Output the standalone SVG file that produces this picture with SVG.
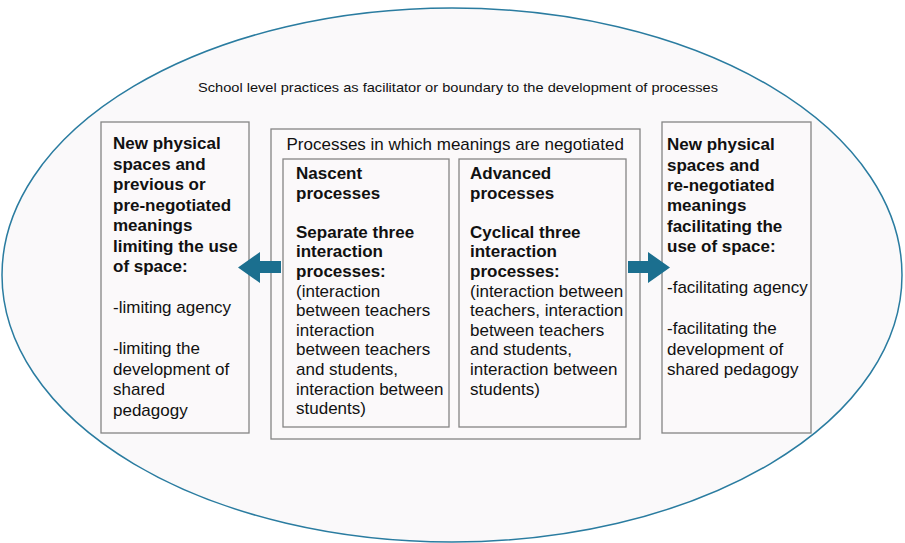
<svg xmlns="http://www.w3.org/2000/svg" width="905" height="543" viewBox="0 0 905 543">
<style>
.box{fill:#fbf9fa;stroke:#858585;stroke-width:1.3}
.t{font-family:"Liberation Sans",Arial,sans-serif;font-size:17px;fill:#111}
.b{font-weight:bold}
.arrow{fill:#1b6f8f}
</style>
<rect width="905" height="543" fill="#ffffff"/>
<g id="school">
<ellipse cx="452" cy="275" rx="450" ry="267" fill="#faf9fa" stroke="#2a7ca0" stroke-width="1.5"/>
<text x="458" y="91.5" text-anchor="middle" style="font-family:'Liberation Sans',Arial,sans-serif;font-size:13px;fill:#111" textLength="520" lengthAdjust="spacingAndGlyphs">School level practices as facilitator or boundary to the development of processes</text>
</g>
<g id="left-box">
<rect class="box" x="101" y="122" width="148" height="311"/>
<text class="t b">
<tspan x="113" y="149">New physical</tspan>
<tspan x="113" y="169.5">spaces and</tspan>
<tspan x="113" y="190">previous or</tspan>
<tspan x="113" y="210.5">pre-negotiated</tspan>
<tspan x="113" y="231">meanings</tspan>
<tspan x="113" y="251.5">limiting the use</tspan>
<tspan x="113" y="272">of space:</tspan>
</text>
<text class="t">
<tspan x="113" y="313">-limiting agency</tspan>
<tspan x="113" y="354">-limiting the</tspan>
<tspan x="113" y="374.5">development of</tspan>
<tspan x="113" y="395">shared</tspan>
<tspan x="113" y="415.5">pedagogy</tspan>
</text>
</g>
<g id="processes">
<rect class="box" x="271" y="129" width="369" height="310"/>
<text class="t" x="286.5" y="149.5">Processes in which meanings are negotiated</text>
</g>
<g id="nascent">
<rect class="box" x="283" y="159" width="166" height="268"/>
<text class="t b">
<tspan x="296" y="179">Nascent</tspan>
<tspan x="296" y="198.6">processes</tspan>
<tspan x="296" y="237.8">Separate three</tspan>
<tspan x="296" y="257.4">interaction</tspan>
<tspan x="296" y="277">processes:</tspan>
</text>
<text class="t">
<tspan x="296" y="296.6">(interaction</tspan>
<tspan x="296" y="316.2">between teachers</tspan>
<tspan x="296" y="335.8">interaction</tspan>
<tspan x="296" y="355.4">between teachers</tspan>
<tspan x="296" y="375">and students,</tspan>
<tspan x="296" y="394.6">interaction between</tspan>
<tspan x="296" y="414.2">students)</tspan>
</text>
</g>
<g id="advanced">
<rect class="box" x="459" y="159" width="167" height="268"/>
<text class="t b">
<tspan x="470" y="179">Advanced</tspan>
<tspan x="470" y="198.6">processes</tspan>
<tspan x="470" y="237.8">Cyclical three</tspan>
<tspan x="470" y="257.4">interaction</tspan>
<tspan x="470" y="277">processes:</tspan>
</text>
<text class="t">
<tspan x="470" y="296.6">(interaction between</tspan>
<tspan x="470" y="316.2">teachers, interaction</tspan>
<tspan x="470" y="335.8">between teachers</tspan>
<tspan x="470" y="355.4">and students,</tspan>
<tspan x="470" y="375">interaction between</tspan>
<tspan x="470" y="394.6">students)</tspan>
</text>
</g>
<g id="right-box">
<rect class="box" x="662" y="122" width="149" height="311"/>
<text class="t b">
<tspan x="667" y="150">New physical</tspan>
<tspan x="667" y="170.5">spaces and</tspan>
<tspan x="667" y="191">re-negotiated</tspan>
<tspan x="667" y="211.4">meanings</tspan>
<tspan x="667" y="231.8">facilitating the</tspan>
<tspan x="667" y="252.3">use of space:</tspan>
</text>
<text class="t">
<tspan x="667" y="293.2">-facilitating agency</tspan>
<tspan x="667" y="334">-facilitating the</tspan>
<tspan x="667" y="354.5">development of</tspan>
<tspan x="667" y="375">shared pedagogy</tspan>
</text>
</g>
<g id="connectors">
<polygon class="arrow" points="281,261 260,261 260,252 238,267.5 260,283 260,273 281,273"/>
<polygon class="arrow" points="628,261 648,261 648,252 670,267.5 648,283 648,273 628,273"/>
</g>
</svg>
